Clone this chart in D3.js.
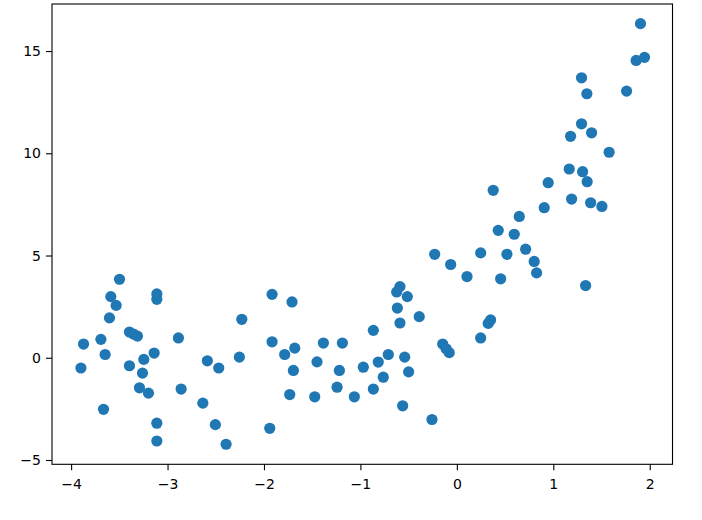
<!DOCTYPE html>
<html>
<head>
<meta charset="utf-8">
<script src="https://cdn.jsdelivr.net/npm/d3@7"></script>
<style>
  html, body { margin: 0; padding: 0; background: #fff; }
  svg { display: block; }
  .tick text { font-family: "DejaVu Sans", sans-serif; font-size: 14px; fill: #000; }
</style>
</head>
<body>
<svg id="chart" width="702" height="520"></svg>
<script>
const xValues = [
  -3.498, -3.588, -3.533, -3.602, -3.111, -3.111, -2.230, -3.871, -3.691, -3.647,
  -3.898, -3.395, -3.353, -3.312, -2.887, -3.139, -3.246, -3.395, -3.260, -3.291,
  -3.198, -2.859, -2.587, -2.469, -2.255, -3.664, -2.634, -3.111, -3.111, -2.504,
  -2.393,
  -1.916, -1.709, -1.916, -1.785, -1.681, -1.695, -1.733, -1.384, -1.187, -1.450,
  -1.218, -1.474, -1.242, -1.063, -0.866, -0.970, -0.815, -0.711, -0.763, -0.866,
  -0.541, -0.500, -0.562, -0.258, -1.940, -0.590, -0.624, -0.514, -0.617, -0.590,
  -0.390, -0.147, -0.079, -0.111, -0.064,
  1.579, 1.165, 1.304, 1.351, 0.947, 0.377, 1.190, 1.387, 1.504, 0.906,
  0.647, 0.429, 0.595, 0.713, 0.247, 0.519, -0.230, 0.802, 0.827, 0.105,
  0.454, 1.335, 0.350, 0.325, 0.247,
  1.904, 1.859, 1.946, 1.293, 1.348, 1.760, 1.293, 1.179, 1.397
];
const yValues = [
  3.84, 2.99, 2.56, 1.95, 3.12, 2.86, 1.88, 0.67, 0.90, 0.16,
  -0.50, 1.26, 1.16, 1.06, 0.97, 0.23, -0.08, -0.39, -0.75, -1.47,
  -1.73, -1.53, -0.15, -0.50, 0.03, -2.52, -2.22, -3.20, -4.07, -3.27,
  -4.23,
  3.10, 2.73, 0.78, 0.16, 0.47, -0.62, -1.80, 0.72, 0.72, -0.20,
  -0.62, -1.91, -1.44, -1.91, 1.34, -0.46, -0.21, 0.16, -0.95, -1.53,
  0.03, -0.69, -2.35, -3.02, -3.45, 3.48, 3.22, 2.99, 2.43, 1.70,
  2.01, 0.67, 0.25, 0.44, 4.56,
  10.05, 9.23, 9.10, 8.61, 8.56, 8.19, 7.76, 7.58, 7.40, 7.34,
  6.91, 6.23, 6.04, 5.31, 5.13, 5.06, 5.06, 4.71, 4.15, 3.97,
  3.86, 3.53, 1.85, 1.68, 0.97,
  16.34, 14.54, 14.69, 13.69, 12.91, 13.04, 11.44, 10.83, 11.00
];
const xTicks = [-4, -3, -2, -1, 0, 1, 2];
const yTicks = [-5, 0, 5, 10, 15];
const xDomain = [-4.198, 2.236];
const yDomain = [-5.21, 17.30];

const svg = d3.select("#chart");
const plotLeft = 52, plotRight = 672.5, plotTop = 4, plotBottom = 464.3;

const x = d3.scaleLinear().domain(xDomain).range([plotLeft, plotRight]);
const y = d3.scaleLinear().domain(yDomain).range([plotBottom, plotTop]);

const pts = xValues.map((v, i) => ({x: v, y: yValues[i]}));

svg.append("g")
  .selectAll("circle")
  .data(pts)
  .enter().append("circle")
  .attr("cx", d => x(d.x))
  .attr("cy", d => y(d.y))
  .attr("r", 5.6)
  .attr("fill", "#1f77b4");

const fmt = d3.format("d");

const xAxis = svg.append("g")
  .attr("transform", `translate(0,${plotBottom})`)
  .call(d3.axisBottom(x).tickValues(xTicks).tickFormat(d => fmt(d)).tickSize(6).tickPadding(9));
const yAxis = svg.append("g")
  .attr("transform", `translate(${plotLeft},0)`)
  .call(d3.axisLeft(y).tickValues(yTicks).tickFormat(d => fmt(d)).tickSize(6).tickPadding(5));

[xAxis, yAxis].forEach(a => {
  a.select(".domain").remove();
  a.selectAll(".tick line").attr("stroke", "#000").attr("stroke-width", 1.1);
  a.selectAll(".tick text").attr("font-family", null).attr("font-size", null);
});

svg.append("rect")
  .attr("x", plotLeft).attr("y", plotTop)
  .attr("width", plotRight - plotLeft).attr("height", plotBottom - plotTop)
  .attr("fill", "none").attr("stroke", "#000").attr("stroke-width", 1.1);
</script>
</body>
</html>
